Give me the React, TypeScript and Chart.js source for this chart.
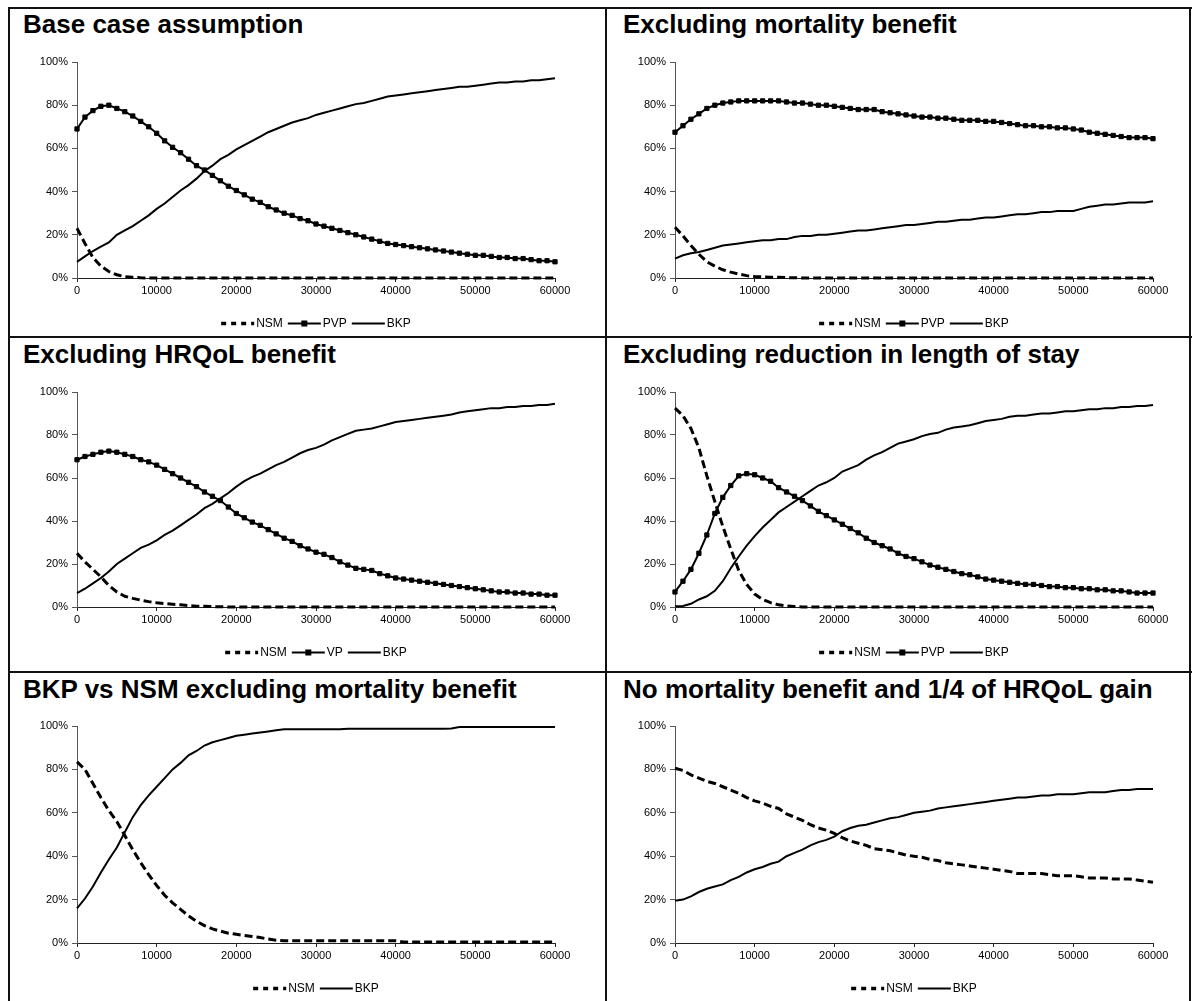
import React, { useEffect, useRef } from "react";
import { Chart, registerables } from "chart.js";

Chart.register(...registerables);

const FONT = '"Liberation Sans", Arial, Helvetica, sans-serif';

// x grid (cost per QALY threshold)
const xValues = [
  0, 1000, 2000, 3000, 4000, 5000, 6000, 7000, 8000, 9000,
  10000, 11000, 12000, 13000, 14000, 15000, 16000, 17000, 18000, 19000,
  20000, 21000, 22000, 23000, 24000, 25000, 26000, 27000, 28000, 29000,
  30000, 31000, 32000, 33000, 34000, 35000, 36000, 37000, 38000, 39000,
  40000, 41000, 42000, 43000, 44000, 45000, 46000, 47000, 48000, 49000,
  50000, 51000, 52000, 53000, 54000, 55000, 56000, 57000, 58000, 59000,
  60000,
];
const xTickValues = [0, 10000, 20000, 30000, 40000, 50000, 60000];
const yTickValues = [0, 20, 40, 60, 80, 100];

const titles = [
  "Base case assumption",
  "Excluding mortality benefit",
  "Excluding HRQoL benefit",
  "Excluding reduction in length of stay",
  "BKP vs NSM excluding mortality benefit",
  "No mortality benefit and 1/4 of HRQoL gain",
];

// ---- Panel 1: Base case assumption
const baseNSM = [
  23, 16, 9.5, 5.5, 3, 1.5, 0.6, 0.3, 0.1, 0,
  0, 0, 0, 0, 0, 0, 0, 0, 0, 0,
  0, 0, 0, 0, 0, 0, 0, 0, 0, 0,
  0, 0, 0, 0, 0, 0, 0, 0, 0, 0,
  0, 0, 0, 0, 0, 0, 0, 0, 0, 0,
  0, 0, 0, 0, 0, 0, 0, 0, 0, 0,
  0,
];
const basePVP = [
  69, 74.5, 77.5, 79.5, 80, 78.5, 77, 75, 72.5, 70,
  67, 63.5, 60.5, 58, 55, 52, 50, 47.5, 45, 42.5,
  40.5, 38.5, 36.5, 35, 33, 31.5, 30, 29, 27.5, 26.5,
  25, 24, 23, 22, 21, 20, 19, 18, 17, 16,
  15.5, 15, 14.5, 14, 13.5, 13, 12.5, 12, 11.5, 11,
  10.5, 10.5, 10, 9.5, 9.5, 9, 9, 8.5, 8, 8,
  7.5,
];
const baseBKP = [
  7.5, 10, 12.5, 14.5, 16.5, 20, 22, 24, 26.5, 29,
  32, 34.5, 37.5, 40.5, 43, 46, 49.5, 52, 55, 57,
  59.5, 61.5, 63.5, 65.5, 67.5, 69, 70.5, 72, 73, 74,
  75.5, 76.5, 77.5, 78.5, 79.5, 80.5, 81, 82, 83, 84,
  84.5, 85, 85.5, 86, 86.5, 87, 87.5, 88, 88.5, 88.5,
  89, 89.5, 90, 90.5, 90.5, 91, 91, 91.5, 91.5, 92,
  92.5,
];

// ---- Panel 2: Excluding mortality benefit
const noMortNSM = [
  23.5, 19.5, 15, 11, 7.5, 5.5, 3.8, 2.7, 1.8, 1.1,
  0.7, 0.5, 0.4, 0.3, 0.2, 0.1, 0, 0, 0, 0,
  0, 0, 0, 0, 0, 0, 0, 0, 0, 0,
  0, 0, 0, 0, 0, 0, 0, 0, 0, 0,
  0, 0, 0, 0, 0, 0, 0, 0, 0, 0,
  0, 0, 0, 0, 0, 0, 0, 0, 0, 0,
  0,
];
const noMortPVP = [
  67.5, 70.5, 73.5, 76, 78.5, 80, 81, 81.5, 82, 82,
  82, 82, 82, 82, 81.5, 81, 81, 80.5, 80, 80,
  79.5, 79, 78.5, 78, 78, 78, 77, 76.5, 76, 75.5,
  75, 74.5, 74.5, 74, 74, 73.5, 73, 73, 73, 72.5,
  72.5, 72, 71.5, 71, 70.5, 70.5, 70, 70, 69.5, 69.5,
  69, 68.5, 67.5, 67, 66.5, 66, 65.5, 65, 65, 65,
  64.5,
];
const noMortBKP = [
  9, 10.5, 11.5, 12, 13, 14, 15, 15.5, 16, 16.5,
  17, 17.5, 17.5, 18, 18, 19, 19.5, 19.5, 20, 20,
  20.5, 21, 21.5, 22, 22, 22.5, 23, 23.5, 24, 24.5,
  24.5, 25, 25.5, 26, 26, 26.5, 27, 27, 27.5, 28,
  28, 28.5, 29, 29.5, 29.5, 30, 30.5, 30.5, 31, 31,
  31, 32, 33, 33.5, 34, 34, 34.5, 35, 35, 35,
  35.5,
];

// ---- Panel 3: Excluding HRQoL benefit
const noQolNSM = [
  25, 21, 17.5, 14, 10, 7, 5, 4, 3.2, 2.5,
  2, 1.6, 1.3, 1, 0.7, 0.4, 0.3, 0.2, 0.1, 0,
  0, 0, 0, 0, 0, 0, 0, 0, 0, 0,
  0, 0, 0, 0, 0, 0, 0, 0, 0, 0,
  0, 0, 0, 0, 0, 0, 0, 0, 0, 0,
  0, 0, 0, 0, 0, 0, 0, 0, 0, 0,
  0,
];
const noQolVP = [
  68.5, 70, 71, 72, 72.5, 72, 71, 70, 68.5, 67.5,
  66, 64, 62, 60, 58, 56, 53.5, 51.5, 49.5, 46.5,
  43.5, 41.5, 39.5, 38, 36, 34, 32, 30.5, 28.5, 27,
  25.5, 24.5, 23, 21, 19.5, 18, 17.5, 17, 15.5, 14.5,
  13.5, 13, 12.5, 12, 11.5, 11, 10.5, 10, 9.5, 9,
  8.5, 8, 7.5, 7, 7, 6.5, 6.5, 6, 6, 5.5,
  5.5,
];
const noQolBKP = [
  6.5, 8.5, 11, 13.5, 16.5, 20, 22.5, 25, 27.5, 29,
  31, 33.5, 35.5, 38, 40.5, 43, 46, 48, 50.5, 53,
  56, 58.5, 60.5, 62, 64, 66, 67.5, 69.5, 71.5, 73,
  74, 75.5, 77.5, 79, 80.5, 82, 82.5, 83, 84, 85,
  86, 86.5, 87, 87.5, 88, 88.5, 89, 89.5, 90.5, 91,
  91.5, 92, 92.5, 92.5, 93, 93, 93.5, 93.5, 94, 94,
  94.5,
];

// ---- Panel 4: Excluding reduction in length of stay
const noLosNSM = [
  92.5, 89, 83, 74, 61, 49, 37.5, 27, 17, 10.5,
  6, 3.5, 2, 1, 0.5, 0.2, 0, 0, 0, 0,
  0, 0, 0, 0, 0, 0, 0, 0, 0, 0,
  0, 0, 0, 0, 0, 0, 0, 0, 0, 0,
  0, 0, 0, 0, 0, 0, 0, 0, 0, 0,
  0, 0, 0, 0, 0, 0, 0, 0, 0, 0,
  0,
];
const noLosPVP = [
  7, 12, 17.5, 25, 33.5, 43.5, 51, 56.5, 61, 62,
  61.5, 60, 58.5, 55.5, 53.5, 51.5, 49.5, 47, 44.5, 42.5,
  40.5, 38.5, 36.5, 34.5, 32, 30, 28.5, 27, 25, 23.5,
  22.5, 21, 19.5, 18.5, 17.5, 16.5, 15.5, 15, 14, 13,
  12.5, 12, 11.5, 11, 10.5, 10.5, 10, 9.5, 9.5, 9,
  9, 8.5, 8.5, 8, 8, 7.5, 7.5, 7, 6.5, 6.5,
  6.5,
];
const noLosBKP = [
  0.3, 0.5, 1.5, 3.5, 5, 7.5, 12, 18, 23.5, 28.5,
  33, 37, 40.5, 44, 46.5, 49, 51.5, 54, 56.5, 58,
  60, 63, 64.5, 66, 68.5, 70.5, 72, 74, 76, 77,
  78, 79.5, 80.5, 81, 82.5, 83.5, 84, 84.5, 85.5, 86.5,
  87, 87.5, 88.5, 89, 89, 89.5, 90, 90, 90.5, 91,
  91, 91.5, 92, 92, 92.5, 92.5, 93, 93, 93.5, 93.5,
  94,
];

// ---- Panel 5: BKP vs NSM excluding mortality benefit
const bkpNsmNSM = [
  83.5, 80, 73.5, 67, 61, 56, 49.5, 43, 37, 31.5,
  26.5, 22, 18.5, 15.5, 12.5, 10, 8, 6.5, 5.5, 4.5,
  4, 3.5, 3, 2.5, 1.8, 1.3, 1, 1, 1, 1,
  1, 1, 1, 1, 1, 1, 1, 1, 1, 1,
  1, 0.5, 0.5, 0.5, 0.5, 0.5, 0.5, 0.5, 0.5, 0.5,
  0.5, 0.5, 0.5, 0.5, 0.5, 0.5, 0.5, 0.5, 0.5, 0.5,
  0.5,
];
const bkpNsmBKP = [
  16, 20.5, 26, 32.5, 38.5, 44, 51, 58, 63.5, 68,
  72, 76, 80, 83, 86.5, 88.5, 91, 92.5, 93.5, 94.5,
  95.5, 96, 96.5, 97, 97.5, 98, 98.5, 98.5, 98.5, 98.5,
  98.5, 98.5, 98.5, 98.5, 98.7, 98.7, 98.7, 98.7, 98.7, 98.7,
  98.7, 98.7, 98.7, 98.7, 98.7, 98.7, 98.7, 98.8, 99.5, 99.5,
  99.5, 99.5, 99.5, 99.5, 99.5, 99.5, 99.5, 99.5, 99.5, 99.5,
  99.5,
];

// ---- Panel 6: No mortality benefit and 1/4 of HRQoL gain
const quarterNSM = [
  80.5, 79.5, 77.5, 76, 74.5, 73.5, 72, 70.5, 69, 67,
  65.5, 64.5, 63, 62, 59.5, 58, 56.5, 54.5, 53, 52,
  50.5, 48.5, 47, 46, 45, 43.5, 43, 42.5, 41.5, 40.5,
  40, 39.5, 38.5, 38, 37, 36.5, 36, 35.5, 35, 34.5,
  34, 33.5, 33, 32, 32, 32, 32, 31.5, 31, 31,
  31, 30.5, 30, 30, 30, 29.5, 29.5, 29.5, 29, 28.5,
  28,
];
const quarterBKP = [
  19.5, 20, 21.5, 23.5, 25, 26, 27, 29, 30.5, 32.5,
  34, 35, 36.5, 37.5, 40, 41.5, 43, 45, 46.5, 47.5,
  49, 51.5, 53, 54, 54.5, 55.5, 56.5, 57.5, 58, 59,
  60, 60.5, 61, 62, 62.5, 63, 63.5, 64, 64.5, 65,
  65.5, 66, 66.5, 67, 67, 67.5, 68, 68, 68.5, 68.5,
  68.5, 69, 69.5, 69.5, 69.5, 70, 70.5, 70.5, 71, 71,
  71,
];

type Kind = "dash" | "marker" | "solid";
type SeriesDef = { label: string; kind: Kind; values: number[] };

const panelSeries: SeriesDef[][] = [
  [
    { label: "NSM", kind: "dash", values: baseNSM },
    { label: "PVP", kind: "marker", values: basePVP },
    { label: "BKP", kind: "solid", values: baseBKP },
  ],
  [
    { label: "NSM", kind: "dash", values: noMortNSM },
    { label: "PVP", kind: "marker", values: noMortPVP },
    { label: "BKP", kind: "solid", values: noMortBKP },
  ],
  [
    { label: "NSM", kind: "dash", values: noQolNSM },
    { label: "VP", kind: "marker", values: noQolVP },
    { label: "BKP", kind: "solid", values: noQolBKP },
  ],
  [
    { label: "NSM", kind: "dash", values: noLosNSM },
    { label: "PVP", kind: "marker", values: noLosPVP },
    { label: "BKP", kind: "solid", values: noLosBKP },
  ],
  [
    { label: "NSM", kind: "dash", values: bkpNsmNSM },
    { label: "BKP", kind: "solid", values: bkpNsmBKP },
  ],
  [
    { label: "NSM", kind: "dash", values: quarterNSM },
    { label: "BKP", kind: "solid", values: quarterBKP },
  ],
];

// ---- layout (page coordinates)
const colPanelLeft = [9, 606];
const rowPanelTop = [8, 337, 672];
const colPlotLeft = [77, 675];
const plotWidth = 478;
const rowPlotTop = [62, 392, 726];
const rowPlotHeight = [216, 215, 217];
const titleLeft = [23, 623];
const titleTop = [9, 339, 674];

const AX_W = 70;
const PAD_T = 12;
const PAD_R = 35;
const AX_H = 60;
const LEGEND_OFFSET = 45;

const legendPlugin = {
  id: "xlLegend",
  afterDraw(chart: any) {
    const { ctx, chartArea } = chart;
    const items = chart.data.datasets.map((ds: any) => ({ label: ds.label as string, kind: ds.xlKind as Kind }));
    ctx.save();
    ctx.font = `12px ${FONT}`;
    const sampleW = 33;
    const gapAfterSample = 2;
    const gapAfterText = 5;
    const widths = items.map((it: any) => ctx.measureText(it.label).width);
    let total = 0;
    items.forEach((_: any, i: number) => {
      total += sampleW + gapAfterSample + widths[i];
      if (i < items.length - 1) total += gapAfterText;
    });
    const cx = (chartArea.left + chartArea.right) / 2;
    const y = Math.round(chartArea.bottom + LEGEND_OFFSET) + 0.5;
    let x = cx - total / 2;
    items.forEach((it: any, i: number) => {
      ctx.strokeStyle = "#000";
      ctx.fillStyle = "#000";
      ctx.beginPath();
      if (it.kind === "dash") {
        ctx.lineWidth = 3.5;
        ctx.setLineDash([5, 5]);
      } else {
        ctx.lineWidth = 2;
        ctx.setLineDash([]);
      }
      ctx.moveTo(x, y);
      ctx.lineTo(x + sampleW, y);
      ctx.stroke();
      ctx.setLineDash([]);
      if (it.kind === "marker") {
        ctx.fillRect(x + sampleW / 2 - 3, y - 3, 6, 6);
      }
      x += sampleW + gapAfterSample;
      ctx.textBaseline = "middle";
      ctx.textAlign = "left";
      ctx.fillText(it.label, x, y);
      x += widths[i] + gapAfterText;
    });
    ctx.restore();
  },
};

function makeDataset(s: SeriesDef) {
  const base: any = {
    label: s.label,
    xlKind: s.kind,
    data: xValues.map((x, i) => ({ x, y: s.values[i] })),
    borderColor: "#000",
    backgroundColor: "#000",
    tension: 0,
    clip: false,
    fill: false,
  };
  if (s.kind === "dash") {
    return { ...base, borderWidth: 3, borderDash: [8, 4], pointRadius: 0, order: 3 };
  }
  if (s.kind === "marker") {
    return {
      ...base,
      borderWidth: 2,
      pointStyle: "rect",
      pointRadius: 3,
      pointBorderWidth: 1,
      pointBackgroundColor: "#000",
      pointBorderColor: "#000",
      order: 2,
    };
  }
  return { ...base, borderWidth: 2, pointRadius: 0, order: 1 };
}

function Panel({ index }: { index: number }) {
  const ref = useRef<HTMLCanvasElement | null>(null);
  const col = index % 2;
  const row = Math.floor(index / 2);
  const plotH = rowPlotHeight[row];
  const cw = plotWidth + AX_W + PAD_R;
  const ch = plotH + PAD_T + AX_H;
  const cLeft = colPlotLeft[col] - AX_W;
  const cTop = rowPlotTop[row] - PAD_T;

  useEffect(() => {
    if (!ref.current) return;
    const tickFont = { family: FONT, size: 11 };
    const chart = new Chart(ref.current, {
      type: "line",
      data: { datasets: panelSeries[index].map(makeDataset) },
      options: {
        animation: false,
        responsive: false,
        maintainAspectRatio: false,
        layout: { padding: { top: PAD_T, right: PAD_R, left: 0, bottom: 0 } },
        plugins: { legend: { display: false }, tooltip: { enabled: false } },
        scales: {
          x: {
            type: "linear",
            min: 0,
            max: 60000,
            afterBuildTicks: (s: any) => {
              s.ticks = xTickValues.map((v) => ({ value: v }));
            },
            ticks: {
              callback: (v: any) => String(v),
              color: "#000",
              font: tickFont,
              padding: 2,
              maxRotation: 0,
              autoSkip: false,
            },
            grid: { display: true, drawOnChartArea: false, drawTicks: true, tickLength: 4, color: "#222" },
            border: { display: true, color: "#222", width: 1 },
            afterFit: (s: any) => {
              s.height = AX_H;
            },
          },
          y: {
            type: "linear",
            min: 0,
            max: 100,
            afterBuildTicks: (s: any) => {
              s.ticks = yTickValues.map((v) => ({ value: v }));
            },
            ticks: {
              callback: (v: any) => `${v}%`,
              color: "#000",
              font: tickFont,
              padding: 4,
            },
            grid: { display: true, drawOnChartArea: false, drawTicks: true, tickLength: 5, color: "#555" },
            border: { display: true, color: "#555", width: 1 },
            afterFit: (s: any) => {
              s.width = AX_W;
            },
          },
        },
      } as any,
      plugins: [legendPlugin],
    });
    return () => chart.destroy();
  }, [index]);

  return (
    <>
      <div
        style={{
          position: "absolute",
          left: titleLeft[col],
          top: titleTop[row],
          fontFamily: FONT,
          fontWeight: "bold",
          fontSize: 26,
          lineHeight: "30px",
          whiteSpace: "nowrap",
          color: "#000",
        }}
      >
        {titles[index]}
      </div>
      <canvas
        ref={ref}
        width={cw}
        height={ch}
        style={{ position: "absolute", left: cLeft, top: cTop, width: cw, height: ch }}
      />
    </>
  );
}

function Line({ left, top, width, height }: { left: number; top: number; width: number; height: number }) {
  return <div style={{ position: "absolute", left, top, width, height, background: "#111" }} />;
}

export default function App() {
  return (
    <div
      style={{
        position: "fixed",
        left: 0,
        top: 0,
        width: 1193,
        height: 1001,
        overflow: "hidden",
        background: "#fff",
      }}
    >
      {/* frame */}
      <Line left={colPanelLeft[0] - 1} top={rowPanelTop[0] - 1} width={1192 - colPanelLeft[0] + 1} height={2} />
      <Line left={colPanelLeft[0] - 1} top={rowPanelTop[0] - 1} width={2} height={1010} />
      <Line left={1189} top={rowPanelTop[0] - 1} width={2} height={1010} />
      <Line left={colPanelLeft[1] - 1} top={rowPanelTop[0] - 1} width={2} height={1010} />
      <Line left={colPanelLeft[0] - 1} top={rowPanelTop[1] - 1} width={1192 - colPanelLeft[0] + 1} height={2} />
      <Line left={colPanelLeft[0] - 1} top={rowPanelTop[2] - 1} width={1192 - colPanelLeft[0] + 1} height={2} />
      {[0, 1, 2, 3, 4, 5].map((i) => (
        <Panel key={i} index={i} />
      ))}
    </div>
  );
}
